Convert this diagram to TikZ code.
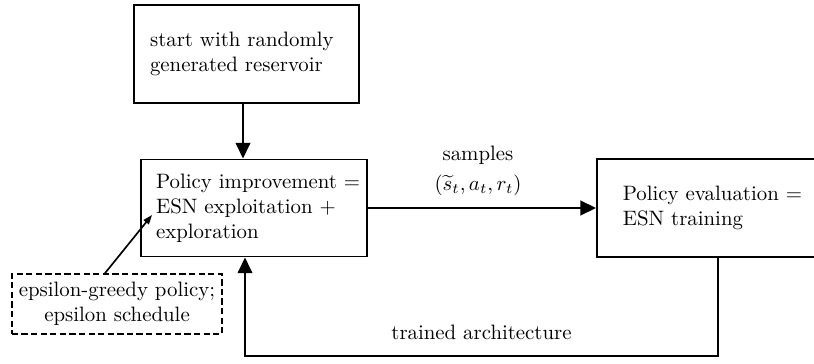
\documentclass[tikz,border=0pt]{standalone}
\usetikzlibrary{arrows.meta}
\begin{document}
\begin{tikzpicture}[x=0.48pt,y=-0.48pt,
  box/.style={draw,line width=0.9pt,rectangle,align=left,inner ysep=0pt},
  arr/.style={line width=0.9pt,-{Triangle[length=7.5pt,width=7pt]}},
  thin arr/.style={line width=0.8pt,-{Triangle[length=4.5pt,width=3.2pt]}},
  note/.style={draw,line width=0.8pt,dash pattern=on 3pt off 1.6pt,align=center,inner ysep=0pt}]
\useasboundingbox (0,0) rectangle (814,363);
\clip (0,0) rectangle (814,363);

% boxes
\node[box,line width=1.2pt,minimum width=108pt,minimum height=47pt,
      text width=92.6pt,inner xsep=7.7pt] (start) at (246.5,54)
  {start with randomly\\generated reservoir};
\node[box,minimum width=108.5pt,minimum height=46.6pt,
      text width=94pt,inner xsep=7.2pt] (impr) at (254,208)
  {\mbox{Policy improvement =}\\ESN exploitation +\\exploration};
\node[box,minimum width=124.8pt,minimum height=47pt,
      text width=100pt,inner xsep=12.4pt] (eval) at (727,208)
  {Policy evaluation =\\ESN training};
\node[note,minimum width=100.8pt,minimum height=28.8pt] (eps) at (117,304)
  {epsilon-greedy policy;\\epsilon schedule};

% labels of the forward connector
\node[inner sep=0pt] (smp) at (478,155) {samples};
\node[inner sep=0pt] (tup) at (478,185) {$(\widetilde{s}_t,a_t,r_t)$};

% connectors
\draw[arr] (start.south -| 243,0) -- (impr.north -| 243,0);
\draw[arr] (impr.east) -- (impr.east -| eval.west);

\coordinate (c1) at (718,356);
\coordinate (c2) at (245,356);
\draw[arr] (eval.south -| c1) -- (c1) -- (c2)
  node[midway,above=4pt] {trained architecture}
  -- (c2 |- impr.south);

\coordinate (tip) at (152,215);
\draw[thin arr] (eps.north -| 105,0) -- (tip);
\end{tikzpicture}
\end{document}
